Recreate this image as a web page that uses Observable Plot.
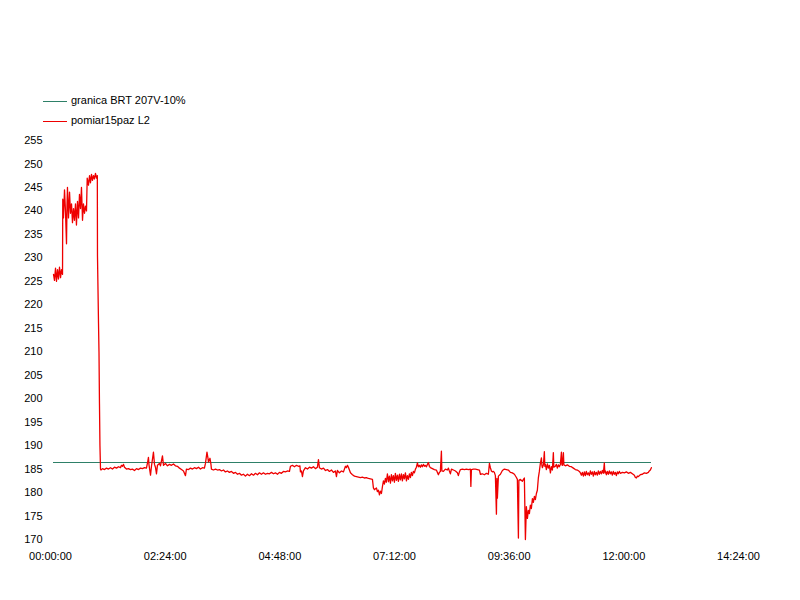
<!DOCTYPE html>
<html>
<head>
<meta charset="utf-8">
<script src="https://cdn.jsdelivr.net/npm/d3@7"></script>
<script src="https://cdn.jsdelivr.net/npm/@observablehq/plot@0.6"></script>
<style>
  html, body { margin: 0; padding: 0; background: #fff; }
  body { width: 800px; height: 600px; overflow: hidden; font-family: "Liberation Sans", Arial, sans-serif; }
  #legend { position: relative; height: 130px; width: 800px; font-size: 11px; color: #000; }
  .sw { position: absolute; left: 43px; width: 24px; height: 1px; }
  .lb { position: absolute; left: 71px; line-height: 13px; white-space: nowrap; }
</style>
</head>
<body>
<div id="legend"></div>
<div id="chart"></div>
<script>
// Series names and colours
const seriesNames = ["granica BRT 207V-10%", "pomiar15paz L2"];
const seriesColors = ["#2e8068", "#ee0000"];

// Limit line (207 V - 10%)
const limitTimes = [3.8, 754.6];     // minutes since 00:00:00
const limitValues = [186.3, 186.3];  // V

// Measurement: time in minutes since 00:00:00, voltage in V
const measTimes = [
  3.8,5.0,6.3,7.5,8.8,10.0,11.3,12.6,13.8,15.1,15.4,16.3,17.6,18.8,20.1,20.7,21.3,22.6,23.9,25.1,
  26.4,27.6,28.9,30.1,31.4,32.6,33.9,35.2,36.4,37.7,38.9,40.2,41.4,42.7,43.9,45.2,46.1,47.7,49.0,50.2,
  51.5,52.7,54.0,55.2,56.5,57.8,58.8,59.0,60.3,60.9,61.5,62.1,62.8,
  63.4,65.3,67.8,70.3,72.8,75.3,77.8,80.4,82.9,85.4,87.9,89.1,90.4,91.7,92.9,95.4,97.9,100.4,102.9,105.5,
  108.0,110.5,113.0,115.5,118.0,120.5,121.8,123.0,123.7,125.6,126.8,129.3,130.6,131.8,133.1,134.3,136.8,138.1,140.6,141.9,
  144.4,146.9,149.4,151.9,154.4,156.9,159.4,162.0,164.5,167.0,169.5,170.7,173.3,175.8,178.3,180.8,183.3,185.8,188.3,190.8,
  193.3,194.6,196.5,197.7,198.4,200.3,201.5,202.1,204.6,207.2,209.7,212.2,214.7,217.2,219.7,222.2,224.7,227.2,229.8,232.3,
  234.8,237.3,239.8,242.3,244.8,247.3,249.8,252.4,254.9,257.4,259.9,262.4,
  264.9,267.4,269.9,272.4,275.0,277.5,280.0,282.5,285.0,287.5,290.0,292.5,295.0,297.5,300.1,301.3,303.8,306.3,308.9,311.4,
  313.2,313.9,315.1,316.4,317.6,320.2,322.7,325.2,327.7,330.2,332.7,335.2,336.5,337.7,340.2,342.8,345.3,347.8,350.3,352.8,
  355.3,357.8,359.1,360.3,362.8,365.4,367.9,370.4,371.6,372.9,374.1,376.7,379.2,381.7,384.2,386.7,389.2,391.7,394.2,396.7,
  399.2,401.8,404.3,405.5,406.8,409.3,410.5,411.8,413.1,414.3,415.6,416.8,418.1,419.3,420.6,421.8,423.1,424.4,425.6,426.9,
  428.1,429.4,430.6,431.9,433.1,434.4,435.7,436.9,438.2,439.4,440.7,441.9,443.2,444.4,445.7,447.0,448.2,449.5,450.7,452.0,
  453.2,454.5,455.7,457.0,458.3,459.5,460.8,462.0,463.3,464.5,
  465.8,467.0,468.3,469.6,470.8,472.1,473.3,474.6,475.8,477.1,479.6,482.1,484.6,487.1,488.4,489.6,490.9,491.5,493.4,495.9,
  498.4,499.7,500.9,502.2,503.5,506.0,508.5,511.0,512.2,513.5,514.8,517.3,519.8,522.3,524.8,527.3,527.9,528.6,531.1,533.6,
  536.1,538.6,539.9,542.4,544.9,547.4,549.9,551.2,552.4,553.7,554.9,556.2,557.4,558.7,560.0,560.6,561.2,562.5,565.0,567.5,
  570.0,572.5,575.0,577.5,580.0,582.6,585.1,586.3,587.6,588.2,590.1,592.6,593.9,595.1,596.4,597.6,598.9,600.1,601.4,602.6,
  603.9,605.2,606.4,607.7,608.9,610.2,611.4,612.7,613.9,615.2,616.5,617.1,617.7,619.0,620.2,620.8,621.5,622.7,624.0,625.2,
  626.5,627.8,629.0,630.3,631.5,632.1,634.0,635.3,636.5,637.8,639.0,640.3,641.6,642.2,642.8,644.1,644.7,646.6,649.1,651.6,
  654.1,656.6,659.1,661.6,664.2,665.4,666.7,667.9,669.2,670.4,671.7,672.9,674.2,675.5,676.7,678.0,679.2,680.5,681.7,683.0,
  684.2,685.5,686.8,688.0,689.3,690.5,691.8,693.0,694.3,695.5,696.2,696.8,698.1,699.3,700.6,701.8,703.1,704.3,705.6,706.8,
  708.1,709.4,710.6,711.9,713.1,714.4,715.6,718.2,720.7,723.2,725.7,728.2,730.7,733.2,734.5,735.7,737.0,738.2,740.7,743.3,
  745.8,748.3,750.8,752.0,753.3,754.6
];
const measValues = [
  226.5,225.2,227.8,225.0,227.5,225.5,228.0,225.8,227.5,226.5,242.5,238.5,244.5,240.0,233.0,241.0,245.0,238.5,244.0,239.5,
  241.5,237.5,240.5,238.0,241.5,237.0,242.0,238.5,243.5,240.5,245.0,238.0,241.5,239.5,241.0,240.0,247.0,245.5,247.5,246.0,
  247.8,246.5,247.5,246.8,248.0,247.0,247.5,230.5,216.0,210.0,199.0,190.0,185.0,
  184.8,185.1,184.9,185.2,185.0,185.3,185.0,185.4,185.2,185.5,185.3,185.8,185.6,186.0,185.4,185.0,185.1,184.9,185.0,184.7,
  185.1,184.9,185.2,185.1,185.3,185.2,186.3,187.5,185.9,183.7,185.6,188.6,186.0,185.4,184.0,185.8,186.2,185.7,187.8,185.8,
  186.2,185.7,186.0,185.8,186.1,185.7,185.6,185.2,184.9,184.6,183.6,185.0,184.9,185.2,185.0,185.3,185.1,185.4,185.0,185.3,
  185.2,186.2,188.6,187.4,186.5,187.3,186.0,185.0,184.8,185.0,184.8,184.9,184.6,184.8,184.4,184.6,184.3,184.5,184.1,184.3,
  183.9,184.1,183.7,183.9,183.5,183.9,183.6,184.0,183.7,184.1,183.8,184.2,
  183.9,184.2,183.9,184.1,184.0,184.3,184.0,184.2,183.9,184.3,184.1,184.5,184.4,184.6,184.5,185.6,185.8,185.5,185.8,185.6,
  185.7,184.4,184.6,183.4,184.6,185.3,185.0,185.4,185.2,185.5,185.1,185.4,187.0,185.3,185.0,185.2,184.7,184.9,184.5,184.8,
  184.3,184.6,183.4,184.7,184.2,184.6,184.4,185.6,185.3,185.8,185.4,184.2,183.8,183.5,183.4,183.3,183.2,183.3,183.1,183.2,
  183.0,182.9,182.8,181.0,180.6,181.0,180.2,180.5,179.5,180.3,179.8,181.2,182.5,181.8,183.0,182.2,184.0,182.3,183.5,182.0,
  183.8,182.5,183.6,182.2,184.1,182.6,183.7,182.4,183.9,182.7,184.0,182.5,183.8,182.9,184.2,182.5,183.6,182.8,184.0,183.2,
  184.3,183.6,184.5,184.2,185.0,185.4,186.3,185.5,185.8,185.4,
  185.9,185.5,186.0,185.6,185.8,185.5,186.0,186.4,185.6,185.3,185.1,184.9,184.8,183.8,184.3,184.5,188.8,184.6,184.5,185.0,
  184.8,185.2,184.6,184.0,185.0,184.8,184.6,184.2,183.6,184.4,184.9,185.0,184.9,185.0,184.9,185.0,181.3,184.9,185.0,185.0,
  184.9,184.8,183.9,184.0,183.8,184.1,183.9,186.2,185.3,184.6,184.4,184.5,184.3,183.6,175.4,183.0,178.8,183.5,183.9,184.7,
  185.0,184.9,184.8,184.3,184.2,183.9,183.2,182.8,170.3,182.6,182.8,182.4,182.8,183.1,170.0,177.0,174.5,176.2,175.5,177.3,
  176.6,178.7,177.9,179.2,178.5,179.8,180.5,183.2,184.5,186.2,187.4,185.8,185.3,185.9,188.7,185.6,186.0,184.9,186.1,185.2,
  185.8,184.2,185.5,184.8,188.5,185.4,185.6,186.0,185.2,185.9,185.5,186.0,188.6,186.0,185.8,188.5,185.9,185.7,185.9,185.6,
  185.5,185.2,184.9,184.8,184.5,184.2,183.7,184.3,183.5,184.4,183.6,184.5,183.8,184.2,183.6,184.6,183.9,184.4,183.5,184.5,
  183.8,184.3,183.7,184.6,183.9,184.5,184.0,184.7,184.1,186.3,184.2,184.6,183.8,184.5,183.9,184.6,184.0,184.4,183.7,184.5,
  183.9,184.3,183.6,184.4,184.0,184.5,184.1,184.3,184.2,184.4,184.1,184.3,184.0,183.7,183.2,183.1,183.5,183.4,183.8,183.9,
  184.2,184.1,184.3,184.6,184.8,185.3
];

// Axis ticks
const xTicks = [0, 144, 288, 432, 576, 720, 864];   // minutes
const yTicks = [170,175,180,185,190,195,200,205,210,215,220,225,230,235,240,245,250,255];

const limitData = limitTimes.map((t, i) => ({t, v: limitValues[i]}));
const measData = measTimes.map((t, i) => ({t, v: measValues[i]}));

const pad = n => String(n).padStart(2, "0");
const fmtTime = m => `${pad(Math.floor(m / 60))}:${pad(m % 60)}:00`;

// Legend (HTML, above the SVG)
const legend = document.getElementById("legend");
const legendTops = [101, 121];
seriesNames.forEach((name, i) => {
  const sw = document.createElement("div");
  sw.className = "sw";
  sw.style.top = legendTops[i] + "px";
  sw.style.backgroundColor = seriesColors[i];
  legend.appendChild(sw);
  const lb = document.createElement("div");
  lb.className = "lb";
  lb.style.top = (legendTops[i] - 7) + "px";
  lb.textContent = name;
  legend.appendChild(lb);
});

const chart = Plot.plot({
  width: 800,
  height: 470,
  marginTop: 10,
  marginBottom: 61,
  marginLeft: 50,
  marginRight: 62,
  style: { fontFamily: "'Liberation Sans', Arial, sans-serif", fontSize: "11px", color: "#000", background: "#fff", overflow: "visible" },
  x: { domain: [0, 864], ticks: xTicks, tickFormat: fmtTime, tickSize: 0, tickPadding: 13, label: null },
  y: { domain: [170, 255], ticks: yTicks, tickSize: 0, tickPadding: 8, label: null },
  marks: [
    Plot.line(limitData, { x: "t", y: "v", stroke: seriesColors[0], strokeWidth: 1, shapeRendering: "crispEdges" }),
    Plot.line(measData, { x: "t", y: "v", stroke: seriesColors[1], strokeWidth: 1.3 })
  ]
});
document.getElementById("chart").appendChild(chart);
</script>
</body>
</html>
